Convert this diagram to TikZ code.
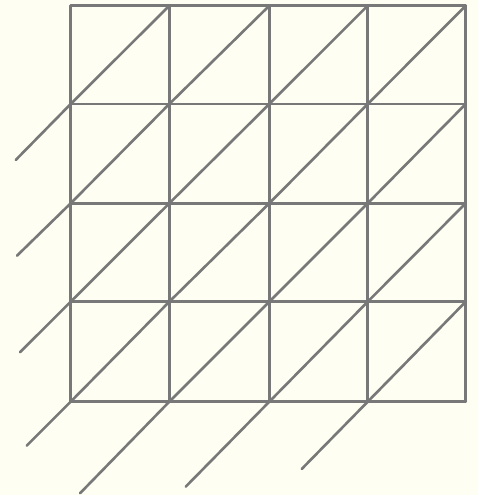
\documentclass[tikz,border=0pt]{standalone}
\definecolor{bg}{RGB}{254,254,242}
\definecolor{ln}{RGB}{120,120,120}
\begin{document}
\begin{tikzpicture}[x=1pt,y=-1pt,gridline/.style={draw=ln,line width=2.6pt,line cap=round,line join=round}]
\fill[bg] (0,0) rectangle (478,495);
\useasboundingbox (0,0) rectangle (478,495);
% grid coordinates
\def\xs{{70.7,169.3,269.3,367.7,465.7}}
\def\ys{{5.7,104,203.3,301.7,401.7}}
\foreach \i in {0,...,4}{
  \pgfmathsetmacro{\xx}{\xs[\i]}
  \pgfmathsetmacro{\yy}{\ys[\i]}
  \draw[gridline] (\xx,5.7) -- (\xx,401.7);
  \draw[gridline] (70.7,\yy) -- (465.7,\yy);
}
% diagonals in cells
\foreach \i in {0,...,3}{
  \foreach \j in {0,...,3}{
    \pgfmathsetmacro{\xa}{\xs[\i]}
    \pgfmathsetmacro{\xb}{\xs[\i+1]}
    \pgfmathsetmacro{\ya}{\ys[\j]}
    \pgfmathsetmacro{\yb}{\ys[\j+1]}
    \draw[gridline] (\xa,\yb) -- (\xb,\ya);
  }
}
% extensions
\coordinate (r1) at (70.7,104);
\coordinate (r2) at (70.7,203.3);
\coordinate (r3) at (70.7,301.7);
\coordinate (c0) at (70.7,401.7);
\coordinate (c1) at (169.3,401.7);
\coordinate (c2) at (269.3,401.7);
\coordinate (c3) at (367.7,401.7);
\coordinate (e1) at (15.7,160);
\coordinate (e2) at (17,255.7);
\coordinate (e3) at (20,352.3);
\coordinate (e4) at (26.7,445.7);
\coordinate (e5) at (80,493.3);
\coordinate (e6) at (185.7,486.7);
\coordinate (e7) at (301.7,469);
\draw[gridline] (r1) -- (e1);
\draw[gridline] (r2) -- (e2);
\draw[gridline] (r3) -- (e3);
\draw[gridline] (c0) -- (e4);
\draw[gridline] (c1) -- (e5);
\draw[gridline] (c2) -- (e6);
\draw[gridline] (c3) -- (e7);
\end{tikzpicture}
\end{document}
